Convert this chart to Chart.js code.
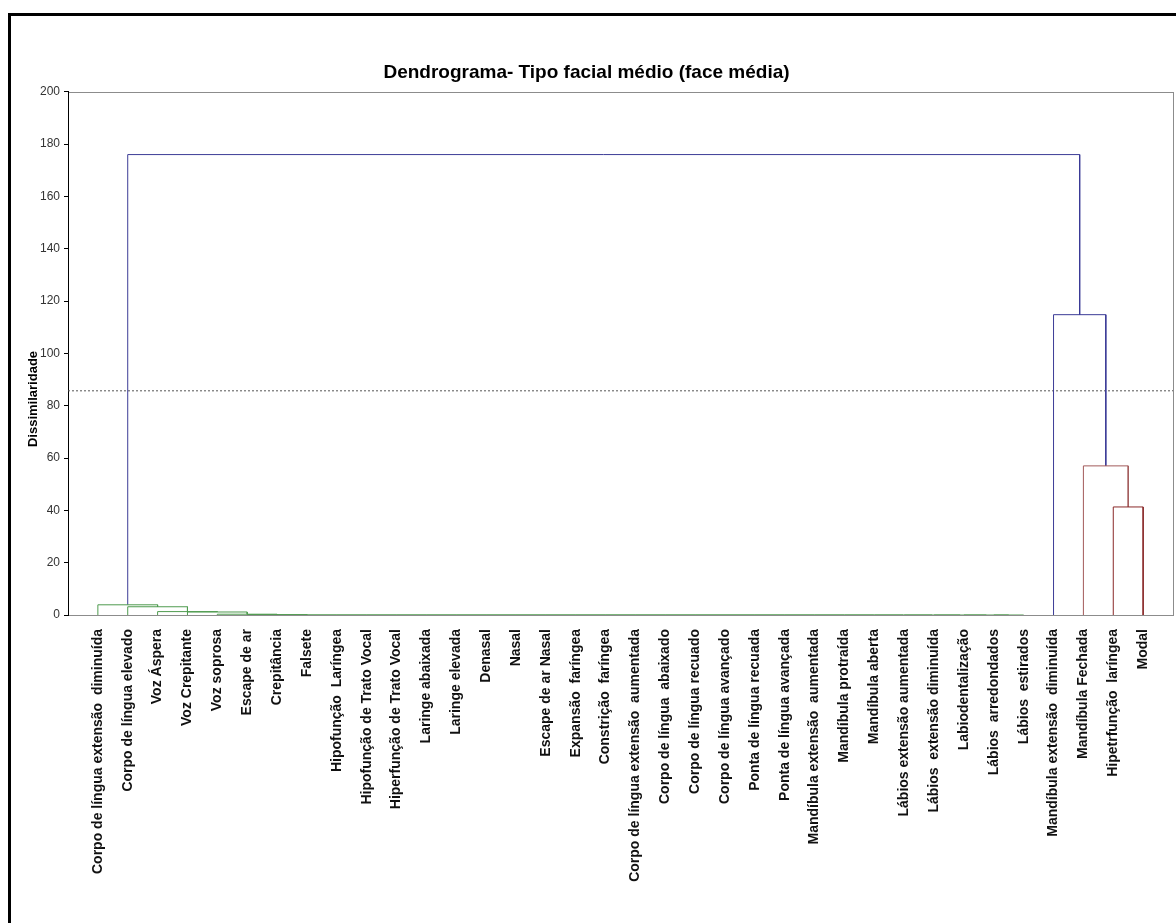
<!DOCTYPE html>
<html>
<head>
<meta charset="utf-8">
<script src="https://cdn.jsdelivr.net/npm/chart.js@4"></script>
<style>
  html, body { margin: 0; padding: 0; background: #fff; overflow: hidden; }
  #wrap { position: relative; width: 1176px; height: 923px; overflow: hidden; }
  #frame { position: absolute; left: 8px; top: 13px; width: 2000px; height: 2000px; border: 3px solid #000; box-sizing: border-box; pointer-events: none; }
  canvas { position: absolute; left: 0; top: 0; }
</style>
</head>
<body>
<div id="wrap">
  <canvas id="dendro" width="1176" height="923"></canvas>
  <div id="frame"></div>
</div>
<script>
// leaves, left to right
const leafLabels = [
  'Corpo de língua extensão  diminuída', 'Corpo de língua elevado', 'Voz Áspera', 'Voz Crepitante',
  'Voz soprosa', 'Escape de ar', 'Crepitância', 'Falsete', 'Hipofunção  Laríngea',
  'Hipofunção de Trato Vocal', 'Hiperfunção de Trato Vocal', 'Laringe abaixada', 'Laringe elevada',
  'Denasal', 'Nasal', 'Escape de ar Nasal', 'Expansão  faríngea', 'Constrição  faríngea',
  'Corpo de língua extensão  aumentada', 'Corpo de língua  abaixado', 'Corpo de língua recuado',
  'Corpo de língua avançado', 'Ponta de língua recuada', 'Ponta de língua avançada',
  'Mandíbula extensão  aumentada', 'Mandíbula protraída', 'Mandíbula aberta',
  'Lábios extensão aumentada', 'Lábios  extensão diminuída', 'Labiodentalização',
  'Lábios  arredondados', 'Lábios  estirados', 'Mandíbula extensão  diminuída',
  'Mandíbula Fechada', 'Hipetrfunção  laríngea', 'Modal'
];

// merges: ids 0..35 are leaves, merge k gets id 36 + k
const mergePairs = [
  [30, 31], [29, 36], [28, 37], [27, 38], [26, 39], [25, 40], [24, 41], [23, 42],
  [22, 43], [21, 44], [20, 45], [19, 46], [18, 47], [17, 48], [16, 49], [15, 50],
  [14, 51], [13, 52], [12, 53], [11, 54], [10, 55], [9, 56], [8, 57], [7, 58],
  [6, 59], [5, 60], [4, 61], [3, 62], [2, 63], [1, 64], [0, 65],
  [34, 35], [33, 67], [32, 68], [66, 69]
];
const mergeHeights = [
  0, 0, 0, 0, 0, 0, 0, 0,
  0, 0, 0, 0, 0, 0, 0, 0,
  0, 0, 0, 0, 0, 0, 0, 0,
  0, 0.15, 0.3, 1.15, 1.3, 3.15, 3.9,
  41.3, 57.0, 114.8, 176.0
];
const green = '#4f9b4f', red1 = '#a35a5a', red2 = '#8a2a2a', blue = '#3b3b96';
const mergeColors = [
  green, green, green, green, green, green, green, green,
  green, green, green, green, green, green, green, green,
  green, green, green, green, green, green, green, green,
  green, green, green, green, green, green, green,
  red2, red1, blue, blue
];
const cutHeight = 85.7;
const yTicksMax = 200;

const nLeaves = leafLabels.length;
const posX = [], posY = [];
for (let i = 0; i < nLeaves; i++) { posX[i] = i + 1; posY[i] = 0; }

const datasets = [];
mergePairs.forEach(function (pair, k) {
  const a = pair[0], b = pair[1], h = mergeHeights[k];
  const id = nLeaves + k;
  posX[id] = (posX[a] + posX[b]) / 2;
  posY[id] = h;
  datasets.push({
    data: [
      { x: posX[a], y: posY[a] }, { x: posX[a], y: h },
      { x: posX[b], y: h }, { x: posX[b], y: posY[b] }
    ],
    showLine: true,
    borderColor: mergeColors[k],
    borderWidth: 1,
    pointRadius: 0,
    tension: 0
  });
});

datasets.push({
  data: [{ x: 0, y: cutHeight }, { x: nLeaves + 1, y: cutHeight }],
  showLine: true,
  borderColor: '#555',
  borderWidth: 1,
  borderDash: [2, 2],
  pointRadius: 0
});

const framePlugin = {
  id: 'frame',
  beforeDraw(chart) {
    const { ctx, chartArea: a } = chart;
    ctx.save();
    ctx.strokeStyle = '#8c8c8c';
    ctx.lineWidth = 1;
    ctx.strokeRect(Math.round(a.left) + 0.5, Math.round(a.top) + 0.5, Math.round(a.right - a.left), Math.round(a.bottom - a.top));
    ctx.restore();
  },
  afterDraw(chart) {
    const ctx = chart.ctx;
    ctx.save();
    ctx.translate(33, 399);
    ctx.rotate(-Math.PI / 2);
    ctx.font = 'bold 13px "Liberation Sans", Arial, sans-serif';
    ctx.fillStyle = '#000';
    ctx.textAlign = 'center';
    ctx.textBaseline = 'middle';
    ctx.fillText('Dissimilaridade', 0, 0);
    ctx.restore();
  }
};

new Chart(document.getElementById('dendro').getContext('2d'), {
  type: 'scatter',
  data: { datasets: datasets },
  plugins: [framePlugin],
  options: {
    responsive: false,
    animation: false,
    events: [],
    layout: { padding: { left: 0, right: 3, top: 0, bottom: 0 } },
    plugins: {
      legend: { display: false },
      tooltip: { enabled: false },
      title: {
        display: true,
        text: 'Dendrograma- Tipo facial médio (face média)',
        color: '#000',
        font: { family: '"Liberation Sans", Arial, sans-serif', size: 19, weight: 'bold' },
        padding: { top: 61, bottom: 8 }
      }
    },
    scales: {
      x: {
        type: 'linear',
        min: 0,
        max: nLeaves + 1,
        afterFit: function (s) { s.height = 308; s.paddingLeft = 0; s.paddingRight = 0; },
        grid: { display: false },
        border: { color: '#8c8c8c' },
        ticks: {
          stepSize: 1,
          autoSkip: false,
          minRotation: 90,
          maxRotation: 90,
          padding: 6,
          color: '#111',
          font: { family: '"Liberation Sans", Arial, sans-serif', size: 14, weight: 'bold' },
          callback: function (v) { return leafLabels[v - 1] || ''; }
        }
      },
      y: {
        min: 0,
        max: yTicksMax,
        afterFit: function (s) { s.width = 68; s.paddingTop = 0; s.paddingBottom = 0; },
        grid: { drawOnChartArea: false, tickLength: 4, color: '#000' },
        border: { color: '#000' },
        ticks: {
          stepSize: 20,
          padding: 4,
          color: '#333',
          font: { family: '"Liberation Sans", Arial, sans-serif', size: 12 }
        }
      }
    }
  }
});
</script>
</body>
</html>
